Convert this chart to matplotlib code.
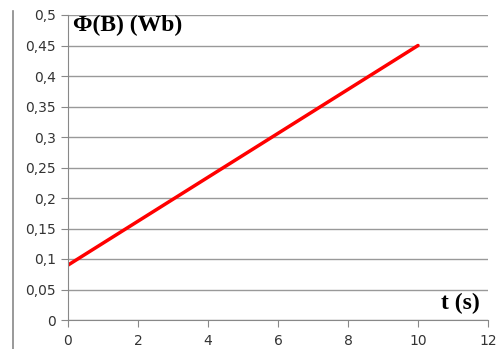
import matplotlib
matplotlib.use("Agg")
import matplotlib.pyplot as plt
from matplotlib.ticker import FuncFormatter

# data
t = [0, 10]
phi = [0.09, 0.45]
xticks = [0, 2, 4, 6, 8, 10, 12]
yticks = [0, 0.05, 0.1, 0.15, 0.2, 0.25, 0.3, 0.35, 0.4, 0.45, 0.5]

fig = plt.figure(figsize=(4.96, 3.49), dpi=100)
ax = fig.add_axes([68/496, 1-320/349, (488-68)/496, (320-15)/349])

ax.plot(t, phi, color="#ff0000", lw=2.5, solid_capstyle="round")

ax.set_xlim(0, 12)
ax.set_ylim(0, 0.5)
ax.set_xticks(xticks)
ax.set_yticks(yticks)
fmt = FuncFormatter(lambda v, p: f"{v:g}".replace(".", ","))
ax.xaxis.set_major_formatter(fmt)
ax.yaxis.set_major_formatter(fmt)
ax.tick_params(labelsize=10, colors="#333333", length=5, width=0.8)
ax.tick_params(axis="both", color="#888888")
ax.tick_params(axis="x", pad=5)
ax.grid(axis="y", color="#999999", lw=1)
ax.set_axisbelow(True)
for s in ["top", "right"]:
    ax.spines[s].set_visible(False)
for s in ["left", "bottom"]:
    ax.spines[s].set_color("#888888")

ax.text(0.012, 1.0, "Φ(B) (Wb)", transform=ax.transAxes, ha="left", va="top",
        fontsize=17, fontweight="bold", family="Liberation Serif")
ax.text(0.98, 0.02, "t (s)", transform=ax.transAxes, ha="right", va="bottom",
        fontsize=17, fontweight="bold", family="Liberation Serif")

# frame line at left
fig.add_artist(plt.Line2D([12.5/496, 12.5/496], [0, 1-11/349], color="#888888", lw=1.2))

fig.savefig("out.png", dpi=100)
